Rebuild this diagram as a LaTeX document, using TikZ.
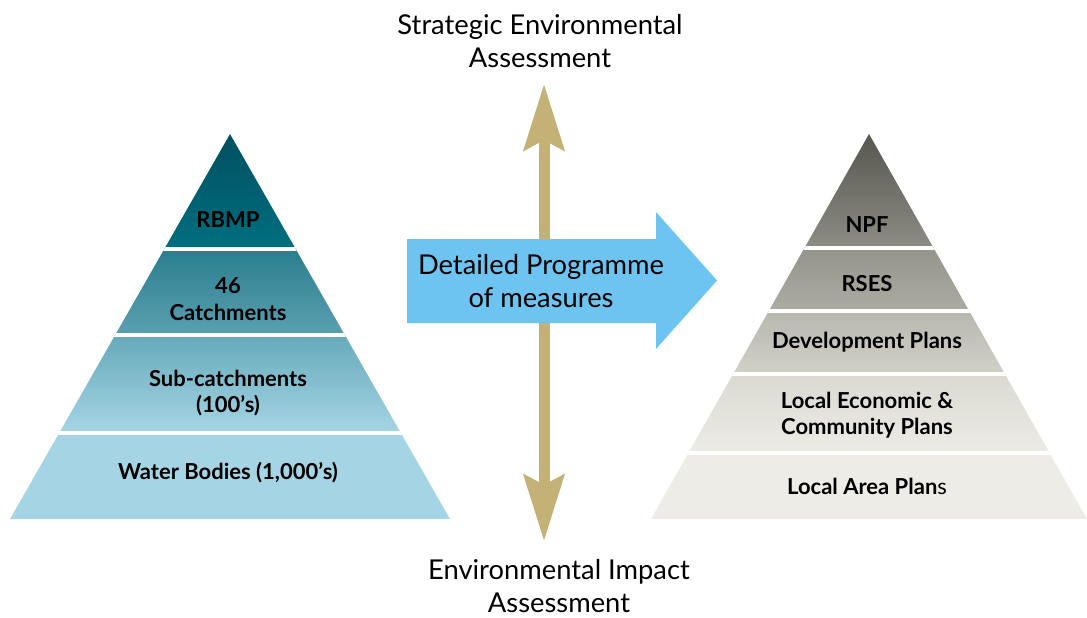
\documentclass[tikz,border=0pt]{standalone}
\usepackage{fontspec}
\setmainfont{Lato}
\usepackage{tikz}
\usetikzlibrary{arrows.meta}

% river basin colours
\definecolor{basinA}{HTML}{01505F}
\definecolor{basinB}{HTML}{006F80}
\definecolor{basinC}{HTML}{2A7E8E}
\definecolor{basinD}{HTML}{5BA0B1}
\definecolor{basinE}{HTML}{66AABA}
\definecolor{basinF}{HTML}{A5D5E5}
% planning colours
\definecolor{planA}{HTML}{57574F}
\definecolor{planB}{HTML}{8E8D85}
\definecolor{planC}{HTML}{95948B}
\definecolor{planD}{HTML}{ADACA3}
\definecolor{planE}{HTML}{B8B7AE}
\definecolor{planF}{HTML}{D2D1C8}
\definecolor{planG}{HTML}{DAD9D1}
\definecolor{planH}{HTML}{ECEBE5}
\definecolor{planI}{HTML}{EDECE6}
\definecolor{measureblue}{HTML}{6DC4F1}
\definecolor{assessgold}{HTML}{C4B175}

\begin{document}
\begin{tikzpicture}[x=0.75pt, y=-0.75pt,
  level/.style={font=\fontsize{16.5}{20}\selectfont\bfseries, align=center},
  caption/.style={font=\fontsize{20.5}{24.6}\selectfont, align=center},
  gap/.style={draw=white, line width=2.4pt}]
  \useasboundingbox (0,0) rectangle (1087,617);

  % River basin pyramid
  \begin{scope}
    \clip (230,134) -- (450,519) -- (10,519) -- cycle;
    \shade[top color=basinA, bottom color=basinB] (0,134) rectangle (460,249);
    \shade[top color=basinC, bottom color=basinD] (0,249) rectangle (460,335);
    \shade[top color=basinE, bottom color=basinF] (0,335) rectangle (460,433);
    \fill[basinF] (0,433) rectangle (460,520);
    \draw[gap] (0,249) -- (460,249);
    \draw[gap] (0,335) -- (460,335);
    \draw[gap] (0,433) -- (460,433);
  \end{scope}
  \node[level] (rbmp) at (228,220) {RBMP};
  \node[level] (catch) at (228,299) {46\\Catchments};
  \node[level] (subcatch) at (228,393) {Sub-catchments\\(100's)};
  \node[level] (water) at (228,473) {Water Bodies (1,000's)};

  % Planning pyramid
  \begin{scope}
    \clip (869,134) -- (1087,519) -- (651,519) -- cycle;
    \shade[top color=planA, bottom color=planB] (640,134) rectangle (1087,248);
    \shade[top color=planC, bottom color=planD] (640,248) rectangle (1087,311);
    \shade[top color=planE, bottom color=planF] (640,311) rectangle (1087,374);
    \shade[top color=planG, bottom color=planH] (640,374) rectangle (1087,453);
    \fill[planI] (640,453) rectangle (1087,520);
    \draw[gap] (640,248) -- (1087,248);
    \draw[gap] (640,311) -- (1087,311);
    \draw[gap] (640,374) -- (1087,374);
    \draw[gap] (640,453) -- (1087,453);
  \end{scope}
  \node[level] (npf) at (867,225) {NPF};
  \node[level] (rses) at (867,284) {RSES};
  \node[level] (devplans) at (867,342) {Development Plans};
  \node[level] (lecp) at (867,415) {Local Economic \&\\Community Plans};
  \node[level] (lap) at (867,486) {Local Area Plan{\mdseries s}};

  % Assessment scale
  \node[caption] (sea) at (540,41) {Strategic Environmental\\Assessment};
  \node[caption] (eia) at (559,586) {Environmental Impact\\Assessment};
  \coordinate (seatip) at (544,84);
  \coordinate (eiatip) at (544,541);
  \draw[assessgold, line width=8.25pt,
    {Stealth[length=49.5pt, width=30pt, inset=7.5pt]}-{Stealth[length=49.5pt, width=30pt, inset=7.5pt]}]
    (seatip) -- (eiatip);

  % Programme of measures arrow
  \fill[measureblue] (407,239) -- (656,239) -- (656,212) -- (717,280.5)
    -- (656,349) -- (656,323) -- (407,323) -- cycle;
  \node[caption] (dpm) at (541,281) {Detailed Programme\\of measures};
\end{tikzpicture}
\end{document}
